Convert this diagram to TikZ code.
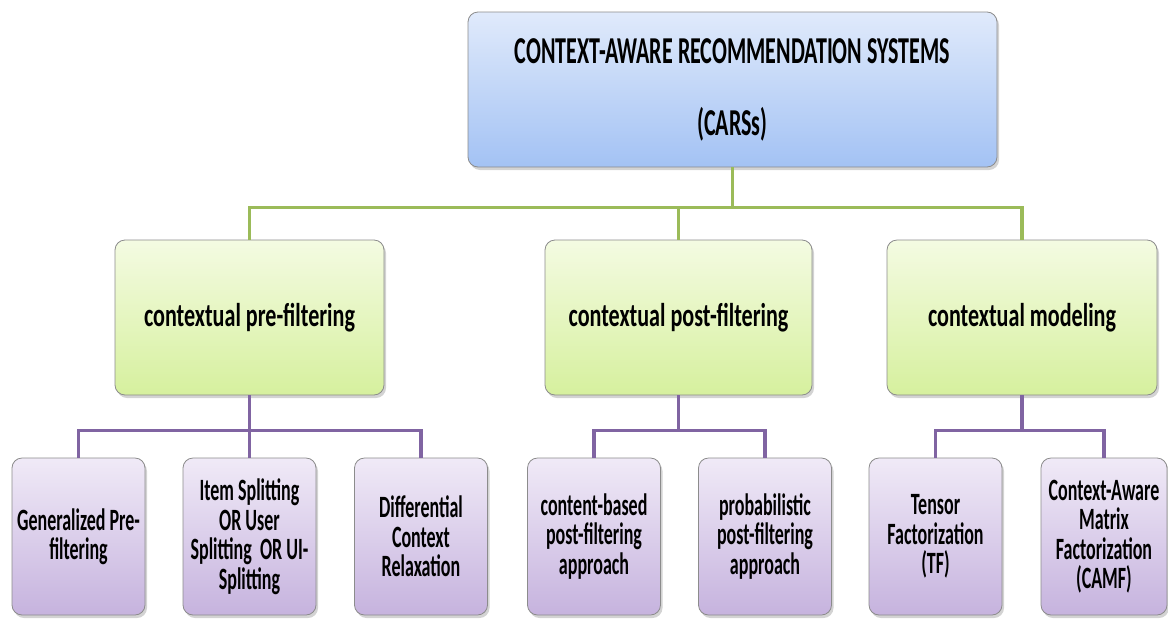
\documentclass[tikz,border=0pt]{standalone}
\usepackage{fontspec}
\setmainfont{Carlito}
\newfontfamily\carsfont{Carlito}[FakeStretch=0.58]
\newfontfamily\midfont{Carlito}[FakeStretch=0.67]
\newfontfamily\leaffont{Carlito}[FakeStretch=0.58]
\usepackage{xcolor}
\usepackage{tikz}
\usetikzlibrary{shadows}

\definecolor{carsTop}{HTML}{E0EAFB}
\definecolor{carsBot}{HTML}{A3C2F4}
\definecolor{grnTop}{HTML}{F4FBE2}
\definecolor{grnBot}{HTML}{D6F09E}
\definecolor{purTop}{HTML}{F0EAF7}
\definecolor{purBot}{HTML}{C6B3DE}
\definecolor{grnLine}{HTML}{9BBB59}
\definecolor{purLine}{HTML}{8064A2}

\tikzset{
  box/.style={draw=black!45, line width=0.8pt, rounded corners=10pt, inner sep=0pt,
    align=center,
    drop shadow={shadow xshift=2pt, shadow yshift=-3pt, opacity=0.35}},
  topbox/.style={box, top color=carsTop, bottom color=carsBot,
    minimum width=529pt, minimum height=155pt,
    font=\carsfont\bfseries\fontsize{38}{72}\selectfont},
  midbox/.style={box, top color=grnTop, bottom color=grnBot,
    minimum height=155pt, font=\midfont\bfseries\fontsize{33}{36}\selectfont},
  leafbox/.style={box, top color=purTop, bottom color=purBot,
    minimum width=133pt, minimum height=157pt,
    font=\leaffont\bfseries\fontsize{31}{29.5}\selectfont},
  gline/.style={draw=grnLine, line width=3.5pt},
  pline/.style={draw=purLine, line width=3.5pt}
}

\begin{document}
\begin{tikzpicture}[x=1pt, y=-1pt]
    \useasboundingbox (0,0) rectangle (1168,619);

    % root
    \node[topbox] (cars) at (732.5,89.5)
        {CONTEXT-AWARE RECOMMENDATION SYSTEMS\\(CARSs)};

    % second level
    \node[midbox, minimum width=269pt] (pre) at (249.5,317.5) {contextual pre-filtering};
    \node[midbox, minimum width=267pt] (post) at (678.5,317.5) {contextual post-filtering};
    \node[midbox, minimum width=270pt] (model) at (1022,317.5) {contextual modeling};

    % leaves
    \node[leafbox] (gen) at (78.5,536.5) {Generalized Pre-\\filtering};
    \node[leafbox] (split) at (249.5,536.5) {Item Splitting\\OR User\\Splitting\ \ OR UI-\\Splitting};
    \node[leafbox] (diff) at (421,536.5) {Differential\\Context\\Relaxation};
    \node[leafbox] (cbased) at (594,536.5) {content-based\\post-filtering\\approach};
    \node[leafbox] (prob) at (765,536.5) {probabilistic\\post-filtering\\approach};
    \node[leafbox] (tf) at (935.5,536.5) {Tensor\\Factorization\\(TF)};
    \node[leafbox, minimum width=126pt] (camf) at (1104,536.5) {Context-Aware\\Matrix\\Factorization\\(CAMF)};

    % connectors
    \foreach \child in {pre, post, model}
        \draw[gline] (cars.south) -- ++(0,40) -| (\child.north);
    \foreach \child in {gen, split, diff}
        \draw[pline] (pre.south) -- ++(0,35) -| (\child.north);
    \foreach \child in {cbased, prob}
        \draw[pline] (post.south) -- ++(0,35) -| (\child.north);
    \foreach \child in {tf, camf}
        \draw[pline] (model.south) -- ++(0,35) -| (\child.north);
\end{tikzpicture}
\end{document}
